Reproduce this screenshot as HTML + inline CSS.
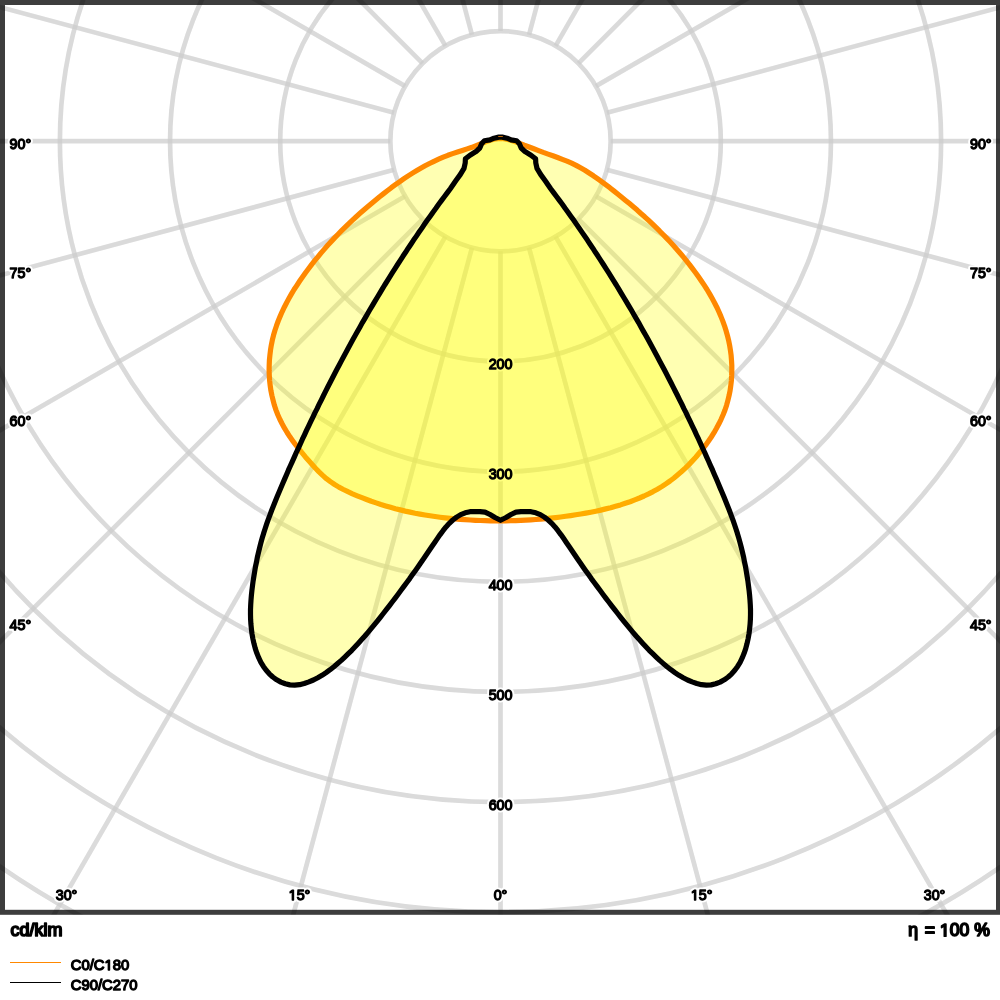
<!DOCTYPE html>
<html><head><meta charset="utf-8"><title>Polar light distribution</title>
<style>
html,body{margin:0;padding:0;background:#fff;}
body{width:1000px;height:1000px;position:relative;overflow:hidden;font-family:"Liberation Sans",sans-serif;}
</style></head><body>
<svg width="1000" height="1000" viewBox="0 0 1000 1000" style="position:absolute;left:0;top:0">
<defs><clipPath id="cp"><rect x="0" y="0" width="1000" height="914.5"/></clipPath></defs>
<rect x="0" y="0" width="1000" height="1000" fill="#fff"/>
<rect x="2.5" y="2.5" width="996" height="909.8" fill="#fff" stroke="#3d3d3d" stroke-width="5"/>
<g clip-path="url(#cp)"><g opacity="0.10" fill="none" stroke="#000" stroke-width="4.7">
<circle cx="500.5" cy="141.2" r="110.15"/>
<circle cx="500.5" cy="141.2" r="220.3"/>
<circle cx="500.5" cy="141.2" r="330.45000000000005"/>
<circle cx="500.5" cy="141.2" r="440.6"/>
<circle cx="500.5" cy="141.2" r="550.75"/>
<circle cx="500.5" cy="141.2" r="660.9000000000001"/>
<circle cx="500.5" cy="141.2" r="771.0500000000001"/>
<circle cx="500.5" cy="141.2" r="881.2"/>
<line x1="500.50" y1="251.35" x2="500.50" y2="1241.20"/>
<line x1="529.01" y1="247.60" x2="785.20" y2="1203.72"/>
<line x1="555.58" y1="236.59" x2="1050.50" y2="1093.83"/>
<line x1="578.39" y1="219.09" x2="1278.32" y2="919.02"/>
<line x1="595.89" y1="196.28" x2="1453.13" y2="691.20"/>
<line x1="606.90" y1="169.71" x2="1563.02" y2="425.90"/>
<line x1="610.65" y1="141.20" x2="1600.50" y2="141.20"/>
<line x1="606.90" y1="112.69" x2="1563.02" y2="-143.50"/>
<line x1="595.89" y1="86.12" x2="1453.13" y2="-408.80"/>
<line x1="578.39" y1="63.31" x2="1278.32" y2="-636.62"/>
<line x1="555.58" y1="45.81" x2="1050.50" y2="-811.43"/>
<line x1="529.01" y1="34.80" x2="785.20" y2="-921.32"/>
<line x1="500.50" y1="31.05" x2="500.50" y2="-958.80"/>
<line x1="471.99" y1="34.80" x2="215.80" y2="-921.32"/>
<line x1="445.42" y1="45.81" x2="-49.50" y2="-811.43"/>
<line x1="422.61" y1="63.31" x2="-277.32" y2="-636.62"/>
<line x1="405.11" y1="86.12" x2="-452.13" y2="-408.80"/>
<line x1="394.10" y1="112.69" x2="-562.02" y2="-143.50"/>
<line x1="390.35" y1="141.20" x2="-599.50" y2="141.20"/>
<line x1="394.10" y1="169.71" x2="-562.02" y2="425.90"/>
<line x1="405.11" y1="196.28" x2="-452.13" y2="691.20"/>
<line x1="422.61" y1="219.09" x2="-277.32" y2="919.02"/>
<line x1="445.42" y1="236.59" x2="-49.50" y2="1093.83"/>
<line x1="471.99" y1="247.60" x2="215.80" y2="1203.72"/>
</g></g>
<g clip-path="url(#cp)" fill="none" stroke="rgba(0,0,0,0.045)" stroke-width="4.7">
<circle cx="500.5" cy="141.2" r="110.15"/>
<circle cx="500.5" cy="141.2" r="220.3"/>
<circle cx="500.5" cy="141.2" r="330.45000000000005"/>
<circle cx="500.5" cy="141.2" r="440.6"/>
<circle cx="500.5" cy="141.2" r="550.75"/>
<circle cx="500.5" cy="141.2" r="660.9000000000001"/>
<circle cx="500.5" cy="141.2" r="771.0500000000001"/>
<circle cx="500.5" cy="141.2" r="881.2"/>
<line x1="500.50" y1="251.35" x2="500.50" y2="1241.20"/>
<line x1="529.01" y1="247.60" x2="785.20" y2="1203.72"/>
<line x1="555.58" y1="236.59" x2="1050.50" y2="1093.83"/>
<line x1="578.39" y1="219.09" x2="1278.32" y2="919.02"/>
<line x1="595.89" y1="196.28" x2="1453.13" y2="691.20"/>
<line x1="606.90" y1="169.71" x2="1563.02" y2="425.90"/>
<line x1="610.65" y1="141.20" x2="1600.50" y2="141.20"/>
<line x1="606.90" y1="112.69" x2="1563.02" y2="-143.50"/>
<line x1="595.89" y1="86.12" x2="1453.13" y2="-408.80"/>
<line x1="578.39" y1="63.31" x2="1278.32" y2="-636.62"/>
<line x1="555.58" y1="45.81" x2="1050.50" y2="-811.43"/>
<line x1="529.01" y1="34.80" x2="785.20" y2="-921.32"/>
<line x1="500.50" y1="31.05" x2="500.50" y2="-958.80"/>
<line x1="471.99" y1="34.80" x2="215.80" y2="-921.32"/>
<line x1="445.42" y1="45.81" x2="-49.50" y2="-811.43"/>
<line x1="422.61" y1="63.31" x2="-277.32" y2="-636.62"/>
<line x1="405.11" y1="86.12" x2="-452.13" y2="-408.80"/>
<line x1="394.10" y1="112.69" x2="-562.02" y2="-143.50"/>
<line x1="390.35" y1="141.20" x2="-599.50" y2="141.20"/>
<line x1="394.10" y1="169.71" x2="-562.02" y2="425.90"/>
<line x1="405.11" y1="196.28" x2="-452.13" y2="691.20"/>
<line x1="422.61" y1="219.09" x2="-277.32" y2="919.02"/>
<line x1="445.42" y1="236.59" x2="-49.50" y2="1093.83"/>
<line x1="471.99" y1="247.60" x2="215.80" y2="1203.72"/>
</g>
<g font-family="Liberation Sans, sans-serif" fill="#fff" stroke="#fff" stroke-linejoin="round" style="opacity:0.999;font-kerning:none">
<text transform="translate(488.66,368.6) scale(0.98,1)" font-size="14.6" stroke-width="5.2">200</text>
<text transform="translate(488.66,478.6) scale(0.98,1)" font-size="14.6" stroke-width="5.2">300</text>
<text transform="translate(488.66,589.6) scale(0.98,1)" font-size="14.6" stroke-width="5.2">400</text>
<text transform="translate(488.66,699.6) scale(0.98,1)" font-size="14.6" stroke-width="5.2">500</text>
<text transform="translate(488.66,810.2) scale(0.98,1)" font-size="14.6" stroke-width="5.2">600</text>
<text transform="translate(9.60,148.8) scale(0.98,1)" font-size="14.6" stroke-width="5.2">90°</text>
<text transform="translate(969.96,148.8) scale(0.98,1)" font-size="14.6" stroke-width="5.2">90°</text>
<text transform="translate(9.60,278.0) scale(0.98,1)" font-size="14.6" stroke-width="5.2">75°</text>
<text transform="translate(969.96,278.0) scale(0.98,1)" font-size="14.6" stroke-width="5.2">75°</text>
<text transform="translate(9.60,425.9) scale(0.98,1)" font-size="14.6" stroke-width="5.2">60°</text>
<text transform="translate(969.96,425.9) scale(0.98,1)" font-size="14.6" stroke-width="5.2">60°</text>
<text transform="translate(9.60,629.5) scale(0.98,1)" font-size="14.6" stroke-width="5.2">45°</text>
<text transform="translate(969.96,629.5) scale(0.98,1)" font-size="14.6" stroke-width="5.2">45°</text>
<text transform="translate(55.68,900.1) scale(0.98,1)" font-size="14.6" stroke-width="5.2">30°</text>
<path transform="translate(288.68,900.1) scale(0.006986,-0.007129)" d="M515,0L515,1237L197,1010L197,1180L530,1409L696,1409L696,0Z" stroke-width="5.2" vector-effect="non-scaling-stroke"/>
<text transform="translate(296.64,900.1) scale(0.98,1)" font-size="14.6" stroke-width="5.2">5°</text>
<text transform="translate(493.66,900.1) scale(0.98,1)" font-size="14.6" stroke-width="5.2">0°</text>
<path transform="translate(690.88,900.1) scale(0.006986,-0.007129)" d="M515,0L515,1237L197,1010L197,1180L530,1409L696,1409L696,0Z" stroke-width="5.2" vector-effect="non-scaling-stroke"/>
<text transform="translate(698.84,900.1) scale(0.98,1)" font-size="14.6" stroke-width="5.2">5°</text>
<text transform="translate(923.68,900.1) scale(0.98,1)" font-size="14.6" stroke-width="5.2">30°</text>
</g>
<path d="M500.5,138.4L495.7,138.8L491.0,140.0L486.3,141.6L481.6,143.5L476.8,145.4L472.0,147.3L467.1,148.9L462.3,150.5L457.5,152.0L452.6,153.6L447.9,155.3L443.2,157.2L438.6,159.2L434.0,161.3L429.5,163.5L425.1,165.8L420.7,168.3L416.4,170.8L412.1,173.4L407.8,176.1L403.6,178.9L399.5,181.8L395.4,184.7L391.3,187.7L387.3,190.8L383.3,193.9L379.3,197.0L375.4,200.2L371.5,203.4L367.6,206.7L363.8,210.0L360.0,213.3L356.2,216.7L352.5,220.1L348.8,223.6L345.2,227.1L341.6,230.6L338.1,234.2L334.6,237.9L331.1,241.6L327.7,245.3L324.4,249.1L321.1,252.9L317.9,256.8L314.7,260.7L311.6,264.6L308.5,268.7L305.5,272.7L302.5,276.9L299.7,281.0L296.9,285.3L294.1,289.5L291.5,293.9L289.0,298.3L286.6,302.7L284.3,307.2L282.1,311.8L280.1,316.4L278.2,321.0L276.5,325.7L274.9,330.5L273.5,335.3L272.3,340.2L271.3,345.2L270.5,350.2L269.9,355.2L269.4,360.3L269.2,365.3L269.1,370.4L269.3,375.5L269.6,380.5L270.2,385.6L270.9,390.6L271.9,395.5L273.1,400.4L274.4,405.3L276.0,410.1L277.8,414.8L279.8,419.3L282.1,423.8L284.5,428.2L287.1,432.5L289.9,436.8L292.8,440.9L295.8,445.0L298.9,449.0L302.1,452.9L305.4,456.9L308.8,460.7L312.1,464.5L315.5,468.3L319.0,471.9L322.7,475.4L326.4,478.7L330.4,481.7L334.6,484.5L338.9,487.1L343.4,489.5L347.9,491.7L352.5,493.8L357.2,495.8L361.9,497.7L366.6,499.5L371.3,501.3L376.1,502.9L380.9,504.5L385.7,505.9L390.5,507.3L395.4,508.7L400.3,509.9L405.2,511.1L410.1,512.1L415.1,513.2L420.0,514.1L425.0,515.0L430.0,515.8L435.0,516.5L440.0,517.2L445.1,517.8L450.1,518.4L455.1,518.9L460.2,519.3L465.2,519.7L470.3,520.0L475.4,520.3L480.4,520.5L485.5,520.7L490.5,520.8L495.6,520.8L500.6,520.8L505.6,520.8L510.7,520.7L515.7,520.6L520.7,520.4L525.7,520.1L530.7,519.8L535.7,519.5L540.7,519.1L545.7,518.7L550.7,518.2L555.7,517.6L560.7,517.0L565.7,516.3L570.7,515.6L575.8,514.8L580.8,514.0L585.8,513.1L590.8,512.2L595.8,511.2L600.8,510.1L605.7,508.9L610.7,507.7L615.6,506.3L620.5,504.9L625.3,503.3L630.1,501.7L634.8,499.9L639.5,498.0L644.1,496.0L648.6,493.9L653.1,491.6L657.4,489.2L661.7,486.6L665.9,483.8L670.0,481.0L674.0,478.0L677.8,474.8L681.6,471.5L685.3,468.1L688.9,464.6L692.4,460.9L695.8,457.2L699.1,453.3L702.3,449.4L705.4,445.4L708.4,441.2L711.3,437.0L714.0,432.7L716.5,428.3L718.9,423.8L721.1,419.3L723.1,414.7L725.0,410.0L726.6,405.2L727.9,400.3L729.1,395.4L730.1,390.5L730.8,385.5L731.4,380.5L731.7,375.4L731.8,370.4L731.8,365.3L731.5,360.3L731.1,355.2L730.4,350.2L729.6,345.2L728.6,340.3L727.4,335.4L726.0,330.6L724.5,325.8L722.8,321.1L720.9,316.4L718.9,311.8L716.8,307.2L714.5,302.7L712.1,298.3L709.6,293.9L707.0,289.5L704.2,285.2L701.4,281.0L698.5,276.8L695.6,272.7L692.5,268.6L689.5,264.6L686.3,260.6L683.1,256.7L679.8,252.8L676.5,249.0L673.2,245.3L669.8,241.6L666.3,237.9L662.8,234.3L659.3,230.7L655.7,227.2L652.1,223.7L648.4,220.2L644.7,216.8L640.9,213.5L637.2,210.1L633.3,206.8L629.5,203.6L625.6,200.4L621.7,197.2L617.7,194.0L613.8,190.9L609.8,187.7L605.7,184.7L601.6,181.6L597.5,178.7L593.4,175.8L589.1,173.0L584.9,170.3L580.5,167.8L576.1,165.4L571.6,163.2L567.0,161.2L562.3,159.3L557.6,157.5L552.9,155.8L548.1,154.1L543.3,152.4L538.6,150.6L533.8,148.8L529.1,147.0L524.3,145.2L519.6,143.3L514.8,141.5L510.0,140.0L505.2,138.9Z" fill="rgba(255,255,0,0.30)" stroke="#ff8800" stroke-width="5.2" stroke-linejoin="round"/>
<path d="M500.5,137.1L498.8,137.1L494.0,138.2L490.0,139.9L484.4,140.8L481.6,143.8L479.8,148.0L476.0,151.6L470.0,155.2L465.4,158.8L465.2,163.0L464.0,168.4L460.4,174.4L455.6,181.0L450.3,188.7L447.4,192.6L444.5,196.5L441.6,200.4L438.7,204.3L435.9,208.3L433.0,212.2L430.2,216.2L427.4,220.1L424.6,224.1L421.9,228.1L419.1,232.1L416.4,236.1L413.6,240.1L410.9,244.2L408.2,248.2L405.6,252.3L402.9,256.3L400.3,260.4L397.6,264.5L395.0,268.6L392.4,272.7L389.8,276.8L387.3,280.9L384.7,285.0L382.2,289.2L379.7,293.3L377.2,297.5L374.7,301.7L372.2,305.8L369.7,310.0L367.3,314.2L364.9,318.4L362.4,322.6L360.0,326.9L357.7,331.1L355.3,335.3L352.9,339.6L350.6,343.8L348.3,348.1L345.9,352.4L343.6,356.7L341.4,360.9L339.1,365.2L336.8,369.5L334.6,373.8L332.3,378.2L330.1,382.5L327.9,386.8L325.7,391.2L323.5,395.5L321.4,399.8L319.2,404.2L317.1,408.6L314.9,412.9L312.8,417.3L310.7,421.7L308.6,426.1L306.5,430.4L304.5,434.8L302.4,439.2L300.4,443.7L298.4,448.1L296.3,452.5L294.4,456.9L292.4,461.3L290.4,465.8L288.4,470.2L286.5,474.7L284.6,479.1L282.7,483.6L280.8,488.1L278.9,492.5L277.0,497.0L275.2,501.5L273.4,506.0L271.6,510.5L269.9,515.1L268.2,519.6L266.6,524.2L265.1,528.8L263.6,533.4L262.2,538.1L260.9,542.8L259.7,547.5L258.5,552.3L257.4,557.1L256.5,561.9L255.5,566.6L254.7,571.4L253.9,576.2L253.1,581.0L252.5,585.8L251.9,590.5L251.4,595.3L251.0,600.1L250.7,604.8L250.5,609.6L250.5,614.4L250.6,619.2L250.9,624.1L251.4,629.0L252.0,633.9L252.9,638.8L254.0,643.7L255.3,648.6L256.9,653.3L258.8,657.9L260.9,662.3L263.4,666.4L266.2,670.3L269.3,673.8L272.8,677.0L276.7,679.8L280.9,682.1L285.3,683.8L289.9,684.9L294.7,685.2L299.5,684.7L304.2,683.5L308.9,681.9L313.4,680.0L317.8,677.7L322.0,675.3L326.1,672.6L330.1,669.7L333.9,666.7L337.6,663.6L341.3,660.4L344.8,657.1L348.3,653.7L351.8,650.3L355.1,646.8L358.4,643.2L361.7,639.6L364.9,636.0L368.0,632.3L371.1,628.6L374.2,624.9L377.3,621.1L380.3,617.3L383.3,613.5L386.3,609.7L389.3,605.8L392.2,602.0L395.2,598.1L398.1,594.2L401.0,590.3L403.9,586.4L406.8,582.5L409.7,578.6L412.5,574.6L415.3,570.7L418.1,566.7L420.8,562.7L423.6,558.7L426.3,554.7L429.0,550.7L431.7,546.7L434.5,542.7L437.3,538.6L440.1,534.6L443.0,530.7L446.0,526.9L449.3,523.3L452.8,520.0L456.6,517.1L460.7,514.6L465.2,512.8L470.0,511.7L480.0,511.7L485.0,512.1L490.0,514.5L495.0,517.5L500.5,520.3L506.0,517.5L511.0,514.5L516.0,512.1L521.0,511.7L531.0,511.7L535.8,512.8L540.3,514.6L544.4,517.1L548.2,520.0L551.7,523.3L555.0,526.9L558.0,530.7L560.9,534.6L563.7,538.6L566.5,542.7L569.3,546.7L572.0,550.7L574.7,554.7L577.4,558.7L580.2,562.7L582.9,566.7L585.7,570.7L588.5,574.6L591.3,578.6L594.2,582.5L597.1,586.4L600.0,590.3L602.9,594.2L605.8,598.1L608.8,602.0L611.7,605.8L614.7,609.7L617.7,613.5L620.7,617.3L623.7,621.1L626.8,624.9L629.9,628.6L633.0,632.3L636.1,636.0L639.3,639.6L642.6,643.2L645.9,646.8L649.2,650.3L652.7,653.7L656.2,657.1L659.7,660.4L663.4,663.6L667.1,666.7L670.9,669.7L674.9,672.6L679.0,675.3L683.2,677.7L687.6,680.0L692.1,681.9L696.8,683.5L701.5,684.7L706.3,685.2L711.1,684.9L715.7,683.8L720.1,682.1L724.3,679.8L728.2,677.0L731.7,673.8L734.8,670.3L737.6,666.4L740.1,662.3L742.2,657.9L744.1,653.3L745.7,648.6L747.0,643.7L748.1,638.8L749.0,633.9L749.6,629.0L750.1,624.1L750.4,619.2L750.5,614.4L750.5,609.6L750.3,604.8L750.0,600.1L749.6,595.3L749.1,590.5L748.5,585.8L747.9,581.0L747.1,576.2L746.3,571.4L745.5,566.6L744.5,561.9L743.6,557.1L742.5,552.3L741.3,547.5L740.1,542.8L738.8,538.1L737.4,533.4L735.9,528.8L734.4,524.2L732.8,519.6L731.1,515.1L729.4,510.5L727.6,506.0L725.8,501.5L724.0,497.0L722.1,492.5L720.2,488.1L718.3,483.6L716.4,479.1L714.5,474.7L712.6,470.2L710.6,465.8L708.6,461.3L706.6,456.9L704.7,452.5L702.6,448.1L700.6,443.7L698.6,439.2L696.5,434.8L694.5,430.4L692.4,426.1L690.3,421.7L688.2,417.3L686.1,412.9L683.9,408.6L681.8,404.2L679.6,399.8L677.5,395.5L675.3,391.2L673.1,386.8L670.9,382.5L668.7,378.2L666.4,373.8L664.2,369.5L661.9,365.2L659.6,360.9L657.4,356.7L655.1,352.4L652.7,348.1L650.4,343.8L648.1,339.6L645.7,335.3L643.3,331.1L641.0,326.9L638.6,322.6L636.1,318.4L633.7,314.2L631.3,310.0L628.8,305.8L626.3,301.7L623.8,297.5L621.3,293.3L618.8,289.2L616.3,285.0L613.7,280.9L611.2,276.8L608.6,272.7L606.0,268.6L603.4,264.5L600.7,260.4L598.1,256.3L595.4,252.3L592.8,248.2L590.1,244.2L587.4,240.1L584.6,236.1L581.9,232.1L579.1,228.1L576.4,224.1L573.6,220.1L570.8,216.2L568.0,212.2L565.1,208.3L562.3,204.3L559.4,200.4L556.5,196.5L553.6,192.6L550.7,188.7L545.4,181.0L540.6,174.4L537.0,168.4L535.8,163.0L535.6,158.8L531.0,155.2L525.0,151.6L521.2,148.0L519.4,143.8L516.6,140.8L511.0,139.9L507.0,138.2L502.2,137.1Z" fill="rgba(255,255,0,0.30)" stroke="#000" stroke-width="5.2" stroke-linejoin="round"/>
<rect x="498.2" y="136" width="4.6" height="1" fill="#ff8800" opacity="0.75"/>
<g font-family="Liberation Sans, sans-serif" fill="#000" stroke="#000" stroke-linejoin="round" style="opacity:0.999;font-kerning:none">
<text transform="translate(488.66,368.6) scale(0.98,1)" font-size="14.6" stroke-width="1.3">200</text>
<text transform="translate(488.66,478.6) scale(0.98,1)" font-size="14.6" stroke-width="1.3">300</text>
<text transform="translate(488.66,589.6) scale(0.98,1)" font-size="14.6" stroke-width="1.3">400</text>
<text transform="translate(488.66,699.6) scale(0.98,1)" font-size="14.6" stroke-width="1.3">500</text>
<text transform="translate(488.66,810.2) scale(0.98,1)" font-size="14.6" stroke-width="1.3">600</text>
<text transform="translate(9.60,148.8) scale(0.98,1)" font-size="14.6" stroke-width="1.3">90°</text>
<text transform="translate(969.96,148.8) scale(0.98,1)" font-size="14.6" stroke-width="1.3">90°</text>
<text transform="translate(9.60,278.0) scale(0.98,1)" font-size="14.6" stroke-width="1.3">75°</text>
<text transform="translate(969.96,278.0) scale(0.98,1)" font-size="14.6" stroke-width="1.3">75°</text>
<text transform="translate(9.60,425.9) scale(0.98,1)" font-size="14.6" stroke-width="1.3">60°</text>
<text transform="translate(969.96,425.9) scale(0.98,1)" font-size="14.6" stroke-width="1.3">60°</text>
<text transform="translate(9.60,629.5) scale(0.98,1)" font-size="14.6" stroke-width="1.3">45°</text>
<text transform="translate(969.96,629.5) scale(0.98,1)" font-size="14.6" stroke-width="1.3">45°</text>
<text transform="translate(55.68,900.1) scale(0.98,1)" font-size="14.6" stroke-width="1.3">30°</text>
<path transform="translate(288.68,900.1) scale(0.006986,-0.007129)" d="M515,0L515,1237L197,1010L197,1180L530,1409L696,1409L696,0Z" stroke-width="1.3" vector-effect="non-scaling-stroke"/>
<text transform="translate(296.64,900.1) scale(0.98,1)" font-size="14.6" stroke-width="1.3">5°</text>
<text transform="translate(493.66,900.1) scale(0.98,1)" font-size="14.6" stroke-width="1.3">0°</text>
<path transform="translate(690.88,900.1) scale(0.006986,-0.007129)" d="M515,0L515,1237L197,1010L197,1180L530,1409L696,1409L696,0Z" stroke-width="1.3" vector-effect="non-scaling-stroke"/>
<text transform="translate(698.84,900.1) scale(0.98,1)" font-size="14.6" stroke-width="1.3">5°</text>
<text transform="translate(923.68,900.1) scale(0.98,1)" font-size="14.6" stroke-width="1.3">30°</text>
<text transform="translate(70.70,970.1) scale(1.017,1)" font-size="14.6" stroke-width="1.3">C0/C</text>
<path transform="translate(104.53,970.1) scale(0.007250,-0.007129)" d="M515,0L515,1237L197,1010L197,1180L530,1409L696,1409L696,0Z" stroke-width="1.3" vector-effect="non-scaling-stroke"/>
<text transform="translate(112.79,970.1) scale(1.017,1)" font-size="14.6" stroke-width="1.3">80</text>
<text transform="translate(70.70,990.1) scale(1.017,1)" font-size="14.6" stroke-width="1.3">C90/C270</text>
<text transform="translate(10.50,936.2) scale(1.02,1)" font-size="17.6" stroke-width="1.7">cd/klm</text>
<text transform="translate(924.73,936.2) scale(1.0,1)" font-size="17.6" stroke-width="1.7">= </text>
<path transform="translate(939.90,936.2) scale(0.008594,-0.008594)" d="M515,0L515,1237L197,1010L197,1180L530,1409L696,1409L696,0Z" stroke-width="1.7" vector-effect="non-scaling-stroke"/>
<text transform="translate(949.68,936.2) scale(1.0,1)" font-size="17.6" stroke-width="1.7">00 %</text>
<text transform="translate(908.30,936.2) scale(1.0,1)" font-size="17.6" stroke-width="1.7">η</text>
</g>
<line x1="10" y1="962.5" x2="61" y2="962.5" stroke="#ff8800" stroke-width="1"/>
<line x1="10" y1="982.5" x2="61" y2="982.5" stroke="#000" stroke-width="1"/>
</svg>
</body></html>
